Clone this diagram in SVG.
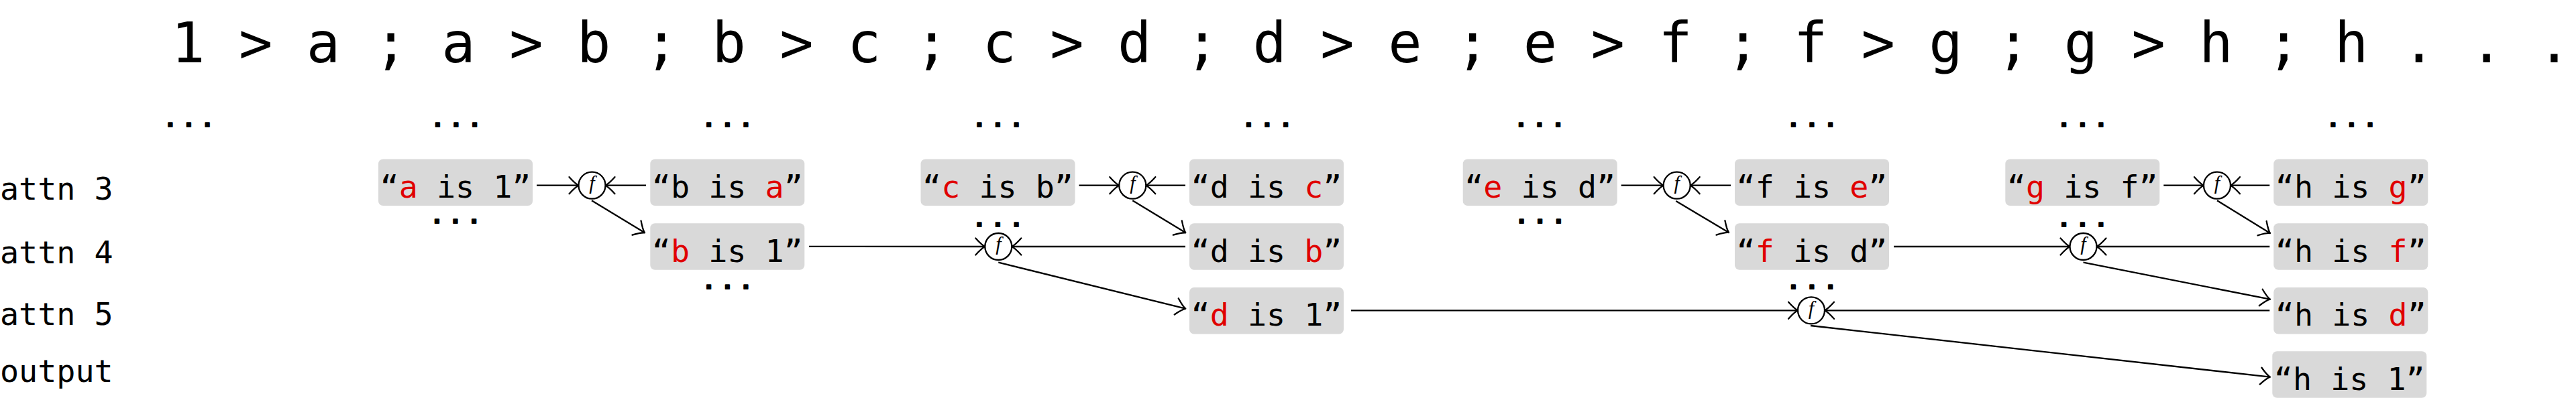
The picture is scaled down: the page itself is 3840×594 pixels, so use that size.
<svg xmlns="http://www.w3.org/2000/svg" width="3840" height="594" viewBox="0 0 3840 594">
<style>
.bg{fill:#ffffff}
.box{fill:#d9d9d9}
.t{font-family:"DejaVu Sans Mono",monospace;font-size:46.7px;fill:#000}
.top{font-family:"DejaVu Sans Mono",monospace;font-size:83.7px;fill:#000}
.r{fill:#e00000}
.dots{font-family:"DejaVu Sans Mono",monospace;font-size:32px;font-weight:bold;letter-spacing:8.4px;fill:#000;stroke:#000;stroke-width:2.2px;stroke-linejoin:round;text-anchor:middle}
.circ{fill:#fff;stroke:#000;stroke-width:2.3}
.fl{font-family:"Liberation Serif",serif;font-style:italic;font-size:30px;text-anchor:middle}
.e{fill:none;stroke:#000;stroke-width:2.3;marker-end:url(#arr)}
.mid{text-anchor:middle}
</style>
<defs>
<marker id="arr" markerUnits="userSpaceOnUse" viewBox="-16 -14 18 28" refX="0" refY="0" markerWidth="18" markerHeight="28" orient="auto" style="overflow:visible">
<path d="M -14 -12.5 Q -5 -2.5 0 0 Q -5 2.5 -14 12.5" fill="none" stroke="#000" stroke-width="2.3" stroke-linecap="round" stroke-linejoin="round"/>
</marker>
</defs>
<rect class="bg" x="0" y="0" width="3840" height="594"/>

<g id="sequence">
<text class="top" x="255.3" y="92.5" xml:space="preserve">1 &gt; a ; a &gt; b ; b &gt; c ; c &gt; d ; d &gt; e ; e &gt; f ; f &gt; g ; g &gt; h ; h . . .</text>
</g>

<g id="layer-labels">
<text class="t" x="0" y="298">attn 3</text>
<text class="t" x="0" y="393">attn 4</text>
<text class="t" x="0" y="485">attn 5</text>
<text class="t" x="0" y="570">output</text>
</g>

<g id="ellipses">
<text class="dots" x="285.7" y="188.5">...</text>
<text class="dots" x="684.2" y="188.5">...</text>
<text class="dots" x="1088.5" y="188.5">...</text>
<text class="dots" x="1491.7" y="188.5">...</text>
<text class="dots" x="1893.2" y="188.5">...</text>
<text class="dots" x="2299.2" y="188.5">...</text>
<text class="dots" x="2705.2" y="188.5">...</text>
<text class="dots" x="3108.5" y="188.5">...</text>
<text class="dots" x="3509.7" y="188.5">...</text>
<text class="dots" x="683.2" y="333">...</text>
<text class="dots" x="1491.7" y="337.8">...</text>
<text class="dots" x="2299.9" y="333">...</text>
<text class="dots" x="3108.5" y="337.8">...</text>
<text class="dots" x="1088.5" y="431.2">...</text>
<text class="dots" x="2705.2" y="431.2">...</text>
</g>

<g id="connectors">
<line class="e" x1="800" y1="276.7" x2="862.5" y2="276.7"/>
<line class="e" x1="963" y1="276.7" x2="902.5" y2="276.7"/>
<line class="e" x1="882" y1="299.3" x2="961" y2="347.3"/>

<line class="e" x1="1608.5" y1="276.7" x2="1668.3" y2="276.7"/>
<line class="e" x1="1767" y1="276.7" x2="1708.3" y2="276.7"/>
<line class="e" x1="1688.3" y1="299.3" x2="1767.3" y2="347.3"/>

<line class="e" x1="2416.7" y1="276.7" x2="2479.7" y2="276.7"/>
<line class="e" x1="2580" y1="276.7" x2="2519.7" y2="276.7"/>
<line class="e" x1="2498.3" y1="300" x2="2577" y2="347"/>

<line class="e" x1="3225.3" y1="276.7" x2="3285" y2="276.7"/>
<line class="e" x1="3383.3" y1="276.7" x2="3325" y2="276.7"/>
<line class="e" x1="3305" y1="299.3" x2="3384" y2="348"/>

<line class="e" x1="1206" y1="367.8" x2="1468.3" y2="368"/>
<line class="e" x1="1767" y1="368" x2="1508.3" y2="368"/>
<line class="e" x1="1488.3" y1="391.7" x2="1767.3" y2="460.7"/>

<line class="e" x1="2823" y1="368" x2="3085.5" y2="368"/>
<line class="e" x1="3383.3" y1="368" x2="3125.5" y2="368"/>
<line class="e" x1="3105.5" y1="391.7" x2="3384" y2="446.7"/>

<line class="e" x1="2014" y1="463.3" x2="2680" y2="463.3"/>
<line class="e" x1="3383.3" y1="463.3" x2="2720" y2="463.3"/>
<line class="e" x1="2699" y1="486" x2="3384" y2="562.7"/>
</g>

<g id="n-a-is-1"><rect class="box" x="564" y="237.5" width="230" height="69.5" rx="7"/><text class="t mid" x="679" y="295">“<tspan class="r">a</tspan> is 1”</text></g>
<g id="n-b-is-a"><rect class="box" x="969.3" y="237.5" width="230" height="69.5" rx="7"/><text class="t mid" x="1084.3" y="295">“b is <tspan class="r">a</tspan>”</text></g>
<g id="n-c-is-b"><rect class="box" x="1372.5" y="237.5" width="230" height="69.5" rx="7"/><text class="t mid" x="1487.5" y="295">“<tspan class="r">c</tspan> is b”</text></g>
<g id="n-d-is-c"><rect class="box" x="1773" y="237.5" width="230" height="69.5" rx="7"/><text class="t mid" x="1888" y="295">“d is <tspan class="r">c</tspan>”</text></g>
<g id="n-e-is-d"><rect class="box" x="2180.7" y="237.5" width="230" height="69.5" rx="7"/><text class="t mid" x="2295.7" y="295">“<tspan class="r">e</tspan> is d”</text></g>
<g id="n-f-is-e"><rect class="box" x="2586" y="237.5" width="230" height="69.5" rx="7"/><text class="t mid" x="2701" y="295">“f is <tspan class="r">e</tspan>”</text></g>
<g id="n-g-is-f"><rect class="box" x="2989.3" y="237.5" width="230" height="69.5" rx="7"/><text class="t mid" x="3104.3" y="295">“<tspan class="r">g</tspan> is f”</text></g>
<g id="n-h-is-g"><rect class="box" x="3389.3" y="237.5" width="230" height="69.5" rx="7"/><text class="t mid" x="3504.3" y="295">“h is <tspan class="r">g</tspan>”</text></g>

<g id="n-b-is-1"><rect class="box" x="969.3" y="333.3" width="230" height="69.5" rx="7"/><text class="t mid" x="1084.3" y="390.5">“<tspan class="r">b</tspan> is 1”</text></g>
<g id="n-d-is-b"><rect class="box" x="1773" y="333.3" width="230" height="69.5" rx="7"/><text class="t mid" x="1888" y="390.5">“d is <tspan class="r">b</tspan>”</text></g>
<g id="n-f-is-d"><rect class="box" x="2586" y="333.3" width="230" height="69.5" rx="7"/><text class="t mid" x="2701" y="390.5">“<tspan class="r">f</tspan> is d”</text></g>
<g id="n-h-is-f"><rect class="box" x="3389.3" y="333.3" width="230" height="69.5" rx="7"/><text class="t mid" x="3504.3" y="390.5">“h is <tspan class="r">f</tspan>”</text></g>

<g id="n-d-is-1"><rect class="box" x="1773" y="429" width="230" height="69.5" rx="7"/><text class="t mid" x="1888" y="486">“<tspan class="r">d</tspan> is 1”</text></g>
<g id="n-h-is-d"><rect class="box" x="3389.3" y="429" width="230" height="69.5" rx="7"/><text class="t mid" x="3504.3" y="486">“h is <tspan class="r">d</tspan>”</text></g>

<g id="n-h-is-1"><rect class="box" x="3387.3" y="524.2" width="230" height="69.5" rx="7"/><text class="t mid" x="3502.3" y="581.7">“h is 1”</text></g>

<g id="f-3a"><circle class="circ" cx="882.5" cy="276.7" r="20"/><text class="fl" x="882.5" y="283">f</text></g>
<g id="f-3b"><circle class="circ" cx="1688.3" cy="276.7" r="20"/><text class="fl" x="1688.3" y="283">f</text></g>
<g id="f-3c"><circle class="circ" cx="2499.7" cy="276.7" r="20"/><text class="fl" x="2499.7" y="283">f</text></g>
<g id="f-3d"><circle class="circ" cx="3305" cy="276.7" r="20"/><text class="fl" x="3305" y="283">f</text></g>
<g id="f-4a"><circle class="circ" cx="1488.3" cy="368" r="20"/><text class="fl" x="1488.3" y="374.3">f</text></g>
<g id="f-4b"><circle class="circ" cx="3105.5" cy="368" r="20"/><text class="fl" x="3105.5" y="374.3">f</text></g>
<g id="f-5a"><circle class="circ" cx="2700" cy="463.3" r="20"/><text class="fl" x="2700" y="469.6">f</text></g>
</svg>
